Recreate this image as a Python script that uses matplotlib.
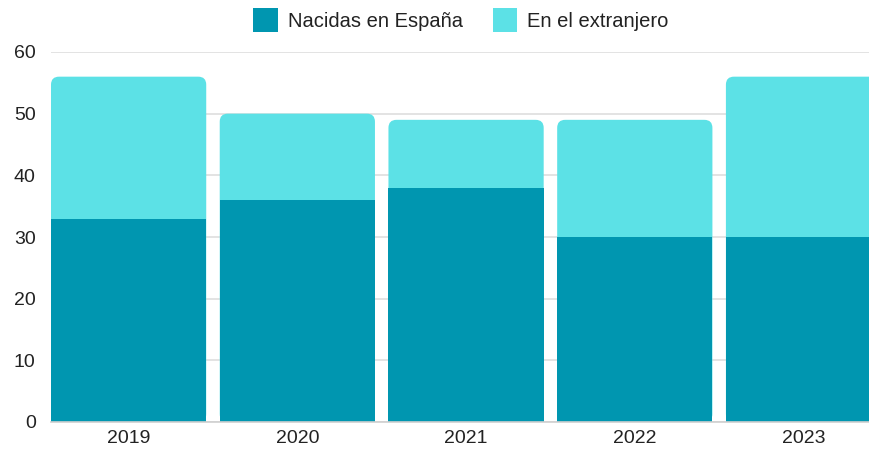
import matplotlib
matplotlib.use('Agg')
import matplotlib.pyplot as plt
from matplotlib.patches import FancyBboxPatch, Patch

# Data
years = ['2019', '2020', '2021', '2022', '2023']
nacidas_espana = [33, 36, 38, 30, 30]
extranjero = [23, 14, 11, 19, 26]

dark = '#0096b0'
light = '#5ce1e6'

plt.rcParams['font.family'] = ['Liberation Sans', 'DejaVu Sans']

fig = plt.figure(figsize=(8.7, 4.54), dpi=100)
ax = fig.add_axes([51 / 870, 32 / 454, 1 - 51 / 870, 370 / 454])

x = list(range(len(years)))
totals = [a + b for a, b in zip(nacidas_espana, extranjero)]
width = 0.92

# full-height light bars, replaced with rounded-corner patches
light_bars = ax.bar(x, totals, width=width, color=light, zorder=2)
radius_px = 8
px_per_x = 819 / 4.854
px_per_y = 370 / 60
rx = radius_px / px_per_x
ry = radius_px / px_per_y
for p in light_bars:
    rb = FancyBboxPatch((p.get_x(), p.get_y()), p.get_width(), p.get_height(),
                        boxstyle=f'round,pad=0,rounding_size={rx}',
                        mutation_aspect=ry / rx,
                        facecolor=light, edgecolor='none', zorder=2)
    p.remove()
    ax.add_patch(rb)

# dark bars on top (square)
ax.bar(x, nacidas_espana, width=width, color=dark, zorder=3)

ax.set_xlim(-0.46, 4.394)
ax.set_ylim(0, 60)
ax.set_yticks([0, 10, 20, 30, 40, 50, 60])
ax.set_xticks(x)
ax.set_xticklabels(years)

ax.grid(axis='y', color='#dedede', linewidth=1.2, zorder=0)
for s in ['top', 'right', 'left']:
    ax.spines[s].set_visible(False)
ax.spines['bottom'].set_color('#cfcfcf')
ax.spines['bottom'].set_linewidth(1.2)
ax.spines['bottom'].set_zorder(4)
ax.tick_params(axis='both', length=0, labelsize=14, colors='#222222')
ax.tick_params(axis='y', pad=11)
ax.tick_params(axis='x', pad=6)

handles = [Patch(facecolor=dark, edgecolor='none'),
           Patch(facecolor=light, edgecolor='none')]
fig.legend(handles, ['Nacidas en España', 'En el extranjero'],
           loc='center', bbox_to_anchor=(461 / 870, 1 - 20 / 454), ncol=2,
           frameon=False, fontsize=14.5, handlelength=1.2, handleheight=1.45,
           handletextpad=0.5, columnspacing=1.5, labelcolor='#222222')

fig.savefig('out.png', dpi=100)
